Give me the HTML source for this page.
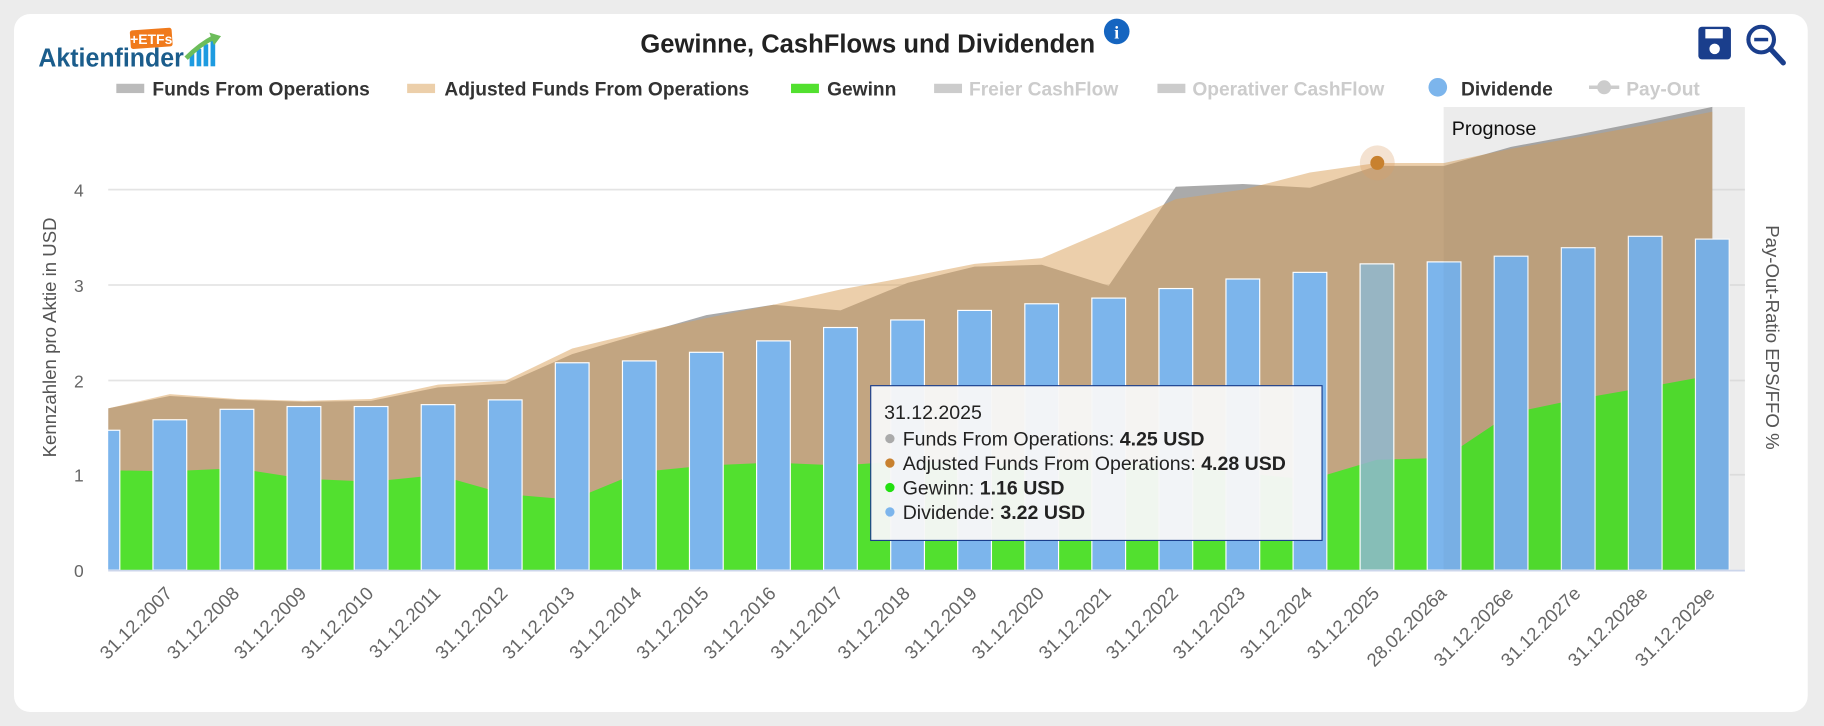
<!DOCTYPE html>
<html><head><meta charset="utf-8"><style>
html,body{margin:0;padding:0;background:#ececec;}
svg{display:block;font-family:"Liberation Sans",Arial,sans-serif;}
</style></head><body>
<svg width="1824" height="726" viewBox="0 0 1568 624" preserveAspectRatio="none" xmlns="http://www.w3.org/2000/svg">
<rect x="0" y="0" width="1568" height="624" fill="#ececec"/>
<rect x="12" y="12" width="1542" height="600" rx="14" fill="#fff"/>
<!-- logo -->
<text x="33" y="57" font-size="22" font-weight="bold" fill="#1b5d8c" textLength="125" lengthAdjust="spacingAndGlyphs">Aktienfinder</text>
<rect x="112" y="25" width="36" height="16" rx="2" fill="#f07a1c" transform="rotate(-4 130 33)"/>
<text x="130" y="38" font-size="12" font-weight="bold" fill="#fff" text-anchor="middle">+ETFs</text>
<rect x="163" y="46" width="4" height="11" fill="#1e9be0"/><rect x="169" y="42" width="4" height="15" fill="#1e9be0"/><rect x="175" y="38" width="4" height="19" fill="#1e9be0"/><rect x="181" y="34" width="4" height="23" fill="#1e9be0"/>
<path d="M160 50 Q172 38 184 32" stroke="#6cbd5a" stroke-width="4" fill="none"/><polygon points="180,28 190,31 184,39" fill="#6cbd5a"/>
<!-- title -->
<text x="746" y="45" font-size="22" font-weight="bold" fill="#222" text-anchor="middle">Gewinne, CashFlows und Dividenden</text>
<circle cx="960" cy="27" r="11" fill="#1565c0"/><text x="960" y="33" font-size="15" font-weight="bold" fill="#fff" text-anchor="middle" font-family="Liberation Serif">i</text>
<!-- icons -->
<rect x="1460" y="23" width="28" height="28" rx="3" fill="#1a3e8c"/><rect x="1466" y="25" width="15" height="8" fill="#fff"/><circle cx="1474" cy="42" r="4.5" fill="#fff"/>
<circle cx="1514" cy="34" r="11" fill="none" stroke="#1a3e8c" stroke-width="3.5"/><line x1="1522" y1="42" x2="1533" y2="54" stroke="#1a3e8c" stroke-width="4.5" stroke-linecap="round"/><line x1="1508" y1="34" x2="1520" y2="34" stroke="#1a3e8c" stroke-width="3"/>
<!-- legend -->
<g font-size="16.5" font-weight="bold">
<rect x="100" y="72" width="24" height="8" fill="#bbb"/><text x="131" y="82" fill="#333">Funds From Operations</text>
<rect x="350" y="72" width="24" height="8" fill="#eccfaa"/><text x="382" y="82" fill="#333">Adjusted Funds From Operations</text>
<rect x="680" y="72" width="24" height="8" fill="#52e02f"/><text x="711" y="82" fill="#333">Gewinn</text>
<rect x="803" y="72" width="24" height="8" fill="#ccc"/><text x="833" y="82" fill="#ccc">Freier CashFlow</text>
<rect x="995" y="72" width="24" height="8" fill="#ccc"/><text x="1025" y="82" fill="#ccc">Operativer CashFlow</text>
<circle cx="1236" cy="75" r="8" fill="#7cb5ec"/><text x="1256" y="82" fill="#333">Dividende</text>
<line x1="1366" y1="75" x2="1392" y2="75" stroke="#ccc" stroke-width="3"/><circle cx="1379" cy="75" r="6" fill="#ccc"/><text x="1398" y="82" fill="#ccc">Pay-Out</text>
</g>
<!-- prognose band -->
<rect x="1241" y="92" width="259" height="398" fill="#f4f4f4"/>
<!-- grid -->
<g stroke="#e4e4e4" stroke-width="1.5">
<line x1="93" y1="163" x2="1500" y2="163"/><line x1="93" y1="245" x2="1500" y2="245"/><line x1="93" y1="327" x2="1500" y2="327"/><line x1="93" y1="408" x2="1500" y2="408"/>
</g>
<!-- FFO -->
<polygon fill="#aaa" points="93,490 93,351 146,340.4 203.7,343.7 261.3,345.3 319,344.5 376.6,333 434.3,329.8 491.9,304.4 549.6,287.3 607.2,270.9 664.9,261.9 722.5,266.8 780.2,243.1 837.8,229.2 895.5,227.6 953.1,245.6 1010.8,160.5 1068.4,158.1 1126.1,161.4 1183.7,142.6 1241.4,142.6 1299,126.2 1356.7,115.6 1414.3,104.1 1472,91.9 1472,490"/>
<!-- AFFO -->
<polygon fill="rgb(217,160,87)" fill-opacity="0.5" points="93,490 93,351 146,338.8 203.7,342.9 261.3,344.5 319,342.9 376.6,330.6 434.3,327.3 491.9,299.5 549.6,285.6 607.2,273.4 664.9,261.9 722.5,248.8 780.2,238.2 837.8,226.8 895.5,221.9 953.1,197.3 1010.8,171.2 1068.4,163 1126.1,148.3 1183.7,140.1 1241.4,140.1 1299,127.8 1356.7,118 1414.3,107.4 1472,96 1472,490"/>
<!-- Gewinn -->
<polygon fill="#52e02f" points="93,490 93,404.2 146,405 203.7,402.5 261.3,411.5 319,414 376.6,408.3 434.3,424.6 491.9,429.5 549.6,405.8 607.2,400.1 664.9,397.6 722.5,400.1 780.2,396 837.8,398.4 895.5,400.1 953.1,396 1010.8,400.1 1068.4,406.6 1126.1,412.3 1183.7,395.2 1241.4,393.5 1299,355.1 1356.7,342.9 1414.3,333 1472,322.4 1472,490"/>
<!-- bars -->
<g fill="#7cb5ec" stroke="#fff" stroke-width="1">
<rect x="74" y="369.8" width="29" height="120.2"/>
<rect x="131.5" y="360.8" width="29" height="129.2"/>
<rect x="189.2" y="351.8" width="29" height="138.2"/>
<rect x="246.8" y="349.4" width="29" height="140.6"/>
<rect x="304.5" y="349.4" width="29" height="140.6"/>
<rect x="362.1" y="347.8" width="29" height="142.2"/>
<rect x="419.8" y="343.7" width="29" height="146.3"/>
<rect x="477.4" y="311.8" width="29" height="178.2"/>
<rect x="535.1" y="310.2" width="29" height="179.8"/>
<rect x="592.7" y="302.8" width="29" height="187.2"/>
<rect x="650.4" y="293" width="29" height="197"/>
<rect x="708" y="281.5" width="29" height="208.5"/>
<rect x="765.7" y="275" width="29" height="215"/>
<rect x="823.3" y="266.8" width="29" height="223.2"/>
<rect x="881" y="261.1" width="29" height="228.9"/>
<rect x="938.6" y="256.2" width="29" height="233.8"/>
<rect x="996.3" y="248" width="29" height="242"/>
<rect x="1053.9" y="239.8" width="29" height="250.2"/>
<rect x="1111.6" y="234.1" width="29" height="255.9"/>
<rect x="1169.2" y="226.8" width="29" height="263.2" fill="#8fb7cf" fill-opacity="0.85"/>
<rect x="1226.9" y="225.1" width="29" height="264.9"/>
<rect x="1284.5" y="220.2" width="29" height="269.8"/>
<rect x="1342.2" y="212.9" width="29" height="277.1"/>
<rect x="1399.8" y="203.1" width="29" height="286.9"/>
<rect x="1457.5" y="205.5" width="29" height="284.5"/>
</g>
<rect x="74" y="200" width="19" height="292" fill="#fff"/>
<!-- prognose overlay -->
<rect x="1241" y="92" width="259" height="398" fill="#000" fill-opacity="0.03"/>
<text x="1248" y="116" font-size="17" fill="#111">Prognose</text>
<line x1="93" y1="490.5" x2="1500" y2="490.5" stroke="#ccd6eb" stroke-width="1.5"/>
<!-- marker -->
<circle cx="1184" cy="140" r="15" fill="#d9a066" fill-opacity="0.3"/>
<circle cx="1184" cy="140" r="6" fill="#c8812f"/>
<!-- y labels -->
<g font-size="15" fill="#666" text-anchor="end">
<text x="72" y="496">0</text><text x="72" y="414">1</text><text x="72" y="333">2</text><text x="72" y="251">3</text><text x="72" y="169">4</text>
</g>
<text transform="translate(48,290) rotate(-90)" font-size="16" fill="#555" text-anchor="middle">Kennzahlen pro Aktie in USD</text>
<text transform="translate(1518,290) rotate(90)" font-size="16" fill="#555" text-anchor="middle">Pay-Out-Ratio EPS/FFO %</text>
<!-- x labels -->
<g font-size="16" fill="#666" text-anchor="end">
<text transform="translate(149,511) rotate(-45)">31.12.2007</text>
<text transform="translate(206.7,511) rotate(-45)">31.12.2008</text>
<text transform="translate(264.3,511) rotate(-45)">31.12.2009</text>
<text transform="translate(322,511) rotate(-45)">31.12.2010</text>
<text transform="translate(379.6,511) rotate(-45)">31.12.2011</text>
<text transform="translate(437.3,511) rotate(-45)">31.12.2012</text>
<text transform="translate(494.9,511) rotate(-45)">31.12.2013</text>
<text transform="translate(552.6,511) rotate(-45)">31.12.2014</text>
<text transform="translate(610.2,511) rotate(-45)">31.12.2015</text>
<text transform="translate(667.9,511) rotate(-45)">31.12.2016</text>
<text transform="translate(725.5,511) rotate(-45)">31.12.2017</text>
<text transform="translate(783.2,511) rotate(-45)">31.12.2018</text>
<text transform="translate(840.8,511) rotate(-45)">31.12.2019</text>
<text transform="translate(898.5,511) rotate(-45)">31.12.2020</text>
<text transform="translate(956.1,511) rotate(-45)">31.12.2021</text>
<text transform="translate(1013.8,511) rotate(-45)">31.12.2022</text>
<text transform="translate(1071.4,511) rotate(-45)">31.12.2023</text>
<text transform="translate(1129.1,511) rotate(-45)">31.12.2024</text>
<text transform="translate(1186.7,511) rotate(-45)">31.12.2025</text>
<text transform="translate(1244.4,511) rotate(-45)">28.02.2026a</text>
<text transform="translate(1302,511) rotate(-45)">31.12.2026e</text>
<text transform="translate(1359.7,511) rotate(-45)">31.12.2027e</text>
<text transform="translate(1417.3,511) rotate(-45)">31.12.2028e</text>
<text transform="translate(1475,511) rotate(-45)">31.12.2029e</text>
</g>
<!-- tooltip -->
<rect x="748.5" y="331.5" width="388" height="133" fill="#f7f7f7" fill-opacity="0.96" stroke="#1a3e8c" stroke-width="1"/>
<g font-size="16.8" fill="#222">
<text x="760" y="360">31.12.2025</text>
<circle cx="765" cy="377" r="4" fill="#aaa"/><text x="776" y="383">Funds From Operations: <tspan font-weight="bold">4.25 USD</tspan></text>
<circle cx="765" cy="398" r="4" fill="#c8812f"/><text x="776" y="404">Adjusted Funds From Operations: <tspan font-weight="bold">4.28 USD</tspan></text>
<circle cx="765" cy="419" r="4" fill="#22e010"/><text x="776" y="425">Gewinn: <tspan font-weight="bold">1.16 USD</tspan></text>
<circle cx="765" cy="440" r="4" fill="#7cb5ec"/><text x="776" y="446">Dividende: <tspan font-weight="bold">3.22 USD</tspan></text>
</g>
</svg>
</body></html>
